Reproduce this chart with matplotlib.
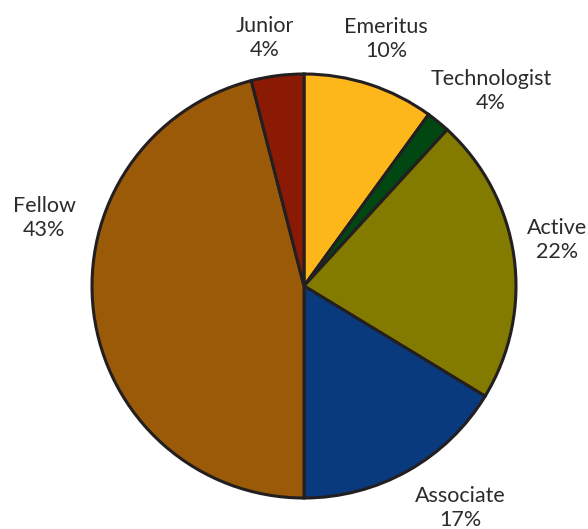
import matplotlib
matplotlib.use("Agg")
import matplotlib.pyplot as plt

categories = ["Emeritus", "Technologist", "Active", "Associate", "Fellow", "Junior"]
sizes = [10, 1.8, 21.9, 16.3, 46, 4]
pct_labels = ["10%", "4%", "22%", "17%", "43%", "4%"]
colors = ["#FDB71A", "#004712", "#837A00", "#0A3A7E", "#9B5A07", "#8B1A05"]

fig = plt.figure(figsize=(5.88, 5.29), dpi=100)
ax = fig.add_axes([0, 0, 1, 1])
R = 212.0
cx, cy = 304.0, 286.0
W, H = 588.0, 529.0
ax.pie(sizes, colors=colors, startangle=90, counterclock=False, radius=1.0,
       wedgeprops=dict(edgecolor="#231F20", linewidth=2.2))
ax.set_xlim(-cx / R, (W - cx) / R)
ax.set_ylim(-(H - cy) / R, cy / R)
ax.set_aspect("equal")
ax.axis("off")

label_px = [(386, 39), (491, 91), (557, 240), (460, 508), (44, 218), (265, 38)]
for name, pct, (px, py) in zip(categories, pct_labels, label_px):
    ax.text((px - cx) / R, (cy - py) / R, f"{name}\n{pct}", ha="center", va="center",
            fontsize=15.5, color="#2B2B2B", family=["Lato", "DejaVu Sans"], linespacing=1.3)

fig.savefig("out.png", dpi=100)
